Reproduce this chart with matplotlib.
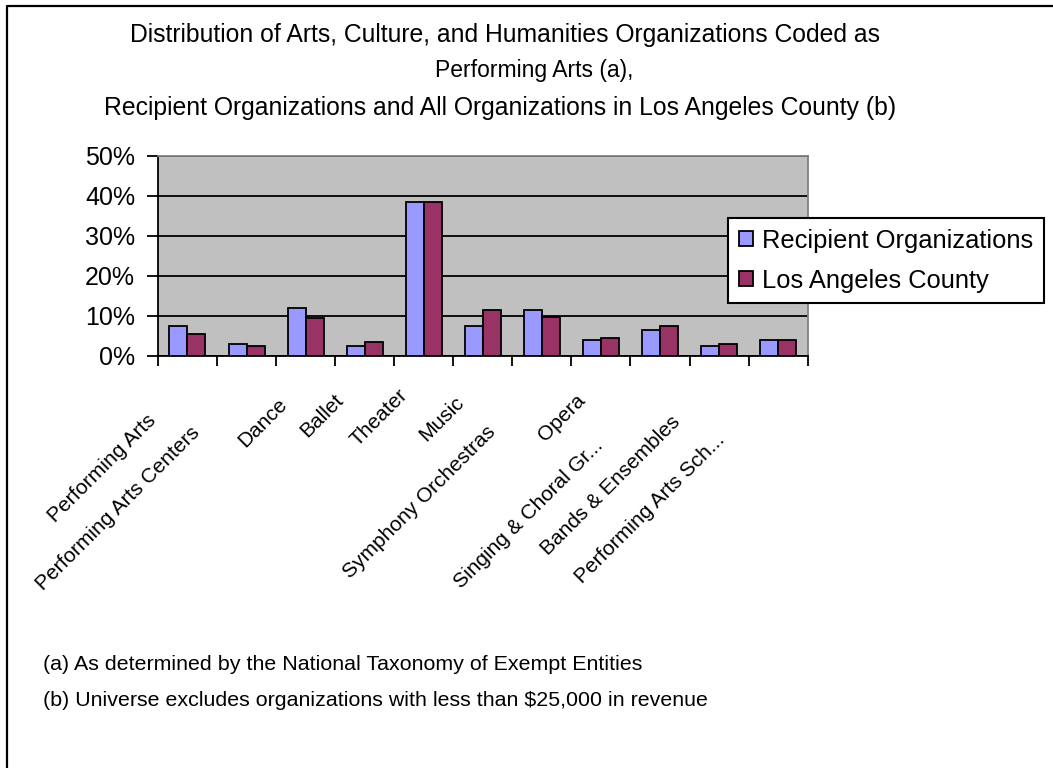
import numpy as np
import matplotlib
matplotlib.use("Agg")
from matplotlib import pyplot as plt
from matplotlib.lines import Line2D
from matplotlib.patches import Patch
from matplotlib.ticker import PercentFormatter

plt.rcParams["font.family"] = ["Liberation Sans", "DejaVu Sans"]

categories = [
    "Performing Arts", "Performing Arts Centers", "Dance", "Ballet", "Theater",
    "Music", "Symphony Orchestras", "Opera", "Singing & Choral Gr...",
    "Bands & Ensembles", "Performing Arts Sch...",
]
recipient = [7.5, 3.0, 12.0, 2.5, 38.4, 7.5, 11.4, 3.9, 6.4, 2.4, 3.9]
la_county = [5.5, 2.5, 9.5, 3.4, 38.4, 11.4, 9.75, 4.5, 7.5, 3.0, 3.9]
series_names = ["Recipient Organizations", "Los Angeles County"]
yticks = [0, 10, 20, 30, 40, 50]

# where each slanted category label ends, pixels from its tick (right, down)
label_offsets = [(-41, 55), (-56, 67), (-28, 39), (-31, 35), (-26, 30),
                 (-29, 37), (-56, 67), (-25, 35), (-67, 80), (-49, 57),
                 (-63, 74)]

blue = "#9999FF"
plum = "#993366"

fig = plt.figure(figsize=(10.53, 7.68), dpi=100)
ax = fig.add_axes([0.150, 0.537, 0.617, 0.260])

x = np.arange(len(categories))
w = 0.305
ax.bar(x - w / 2, recipient, w, color=blue, edgecolor="black", linewidth=1.3, zorder=3)
ax.bar(x + w / 2, la_county, w, color=plum, edgecolor="black", linewidth=1.3, zorder=3)

ax.set_facecolor("#C0C0C0")
ax.set_xlim(-0.5, len(categories) - 0.5)
ax.set_ylim(0, 50)
ax.set_yticks(yticks)
ax.yaxis.set_major_formatter(PercentFormatter(decimals=0))
ax.grid(axis="y", color="black", linewidth=1.3, zorder=1)
ax.set_axisbelow(True)

ax.set_xticks(np.arange(-0.5, len(categories), 1))
ax.set_xticklabels([])
ax.tick_params(axis="x", direction="out", length=7, width=1.3, color="black")
ax.tick_params(axis="y", direction="out", length=8, width=1.3, pad=8.5, labelsize=18)

for side in ("top", "right"):
    ax.spines[side].set_color("#808080")
    ax.spines[side].set_linewidth(1.3)
for side in ("left", "bottom"):
    ax.spines[side].set_color("black")
    ax.spines[side].set_linewidth(1.3)

for i, label in enumerate(categories):
    dx, dy = label_offsets[i]
    ax.annotate(label, xy=(x[i], 0), xycoords=("data", "axes fraction"),
                xytext=(dx, -dy), textcoords="offset pixels",
                rotation=45, rotation_mode="anchor", ha="right", va="top",
                fontsize=15)

handles = [Patch(facecolor=blue, edgecolor="black", linewidth=1.3),
           Patch(facecolor=plum, edgecolor="black", linewidth=1.3)]
leg = fig.legend(handles, series_names, loc="upper left",
                 bbox_to_anchor=(728 / 1053, 1 - 218 / 768), fontsize=18.4,
                 frameon=True, fancybox=False, edgecolor="black",
                 handlelength=0.55, handleheight=0.55, handletextpad=0.35,
                 labelspacing=0.62, borderpad=0.42, borderaxespad=0)
leg.get_frame().set_linewidth(1.5)
leg.get_frame().set_alpha(None)
leg.get_frame().set_facecolor("white")

# title, three lines
fig.text(505 / 1053, 1 - 35 / 768,
         "Distribution of Arts, Culture, and Humanities Organizations Coded as",
         ha="center", va="center", fontsize=17.8)
fig.text(534 / 1053, 1 - 71 / 768, "Performing Arts (a),",
         ha="center", va="center", fontsize=16.5)
fig.text(500 / 1053, 1 - 108 / 768,
         "Recipient Organizations and All Organizations in Los Angeles County (b)",
         ha="center", va="center", fontsize=17.8)

# footnotes
fig.text(43 / 1053, 1 - 664 / 768,
         "(a) As determined by the National Taxonomy of Exempt Entities",
         ha="left", va="center", fontsize=15.4)
fig.text(43 / 1053, 1 - 700 / 768,
         "(b) Universe excludes organizations with less than $25,000 in revenue",
         ha="left", va="center", fontsize=15.4)

# outer frame (top and left edges)
fig.add_artist(Line2D([6.5 / 1053, 6.5 / 1053, 1], [0, 1 - 6 / 768, 1 - 6 / 768],
                      transform=fig.transFigure, color="black", linewidth=1.6))

fig.savefig("out.png", dpi=100)
